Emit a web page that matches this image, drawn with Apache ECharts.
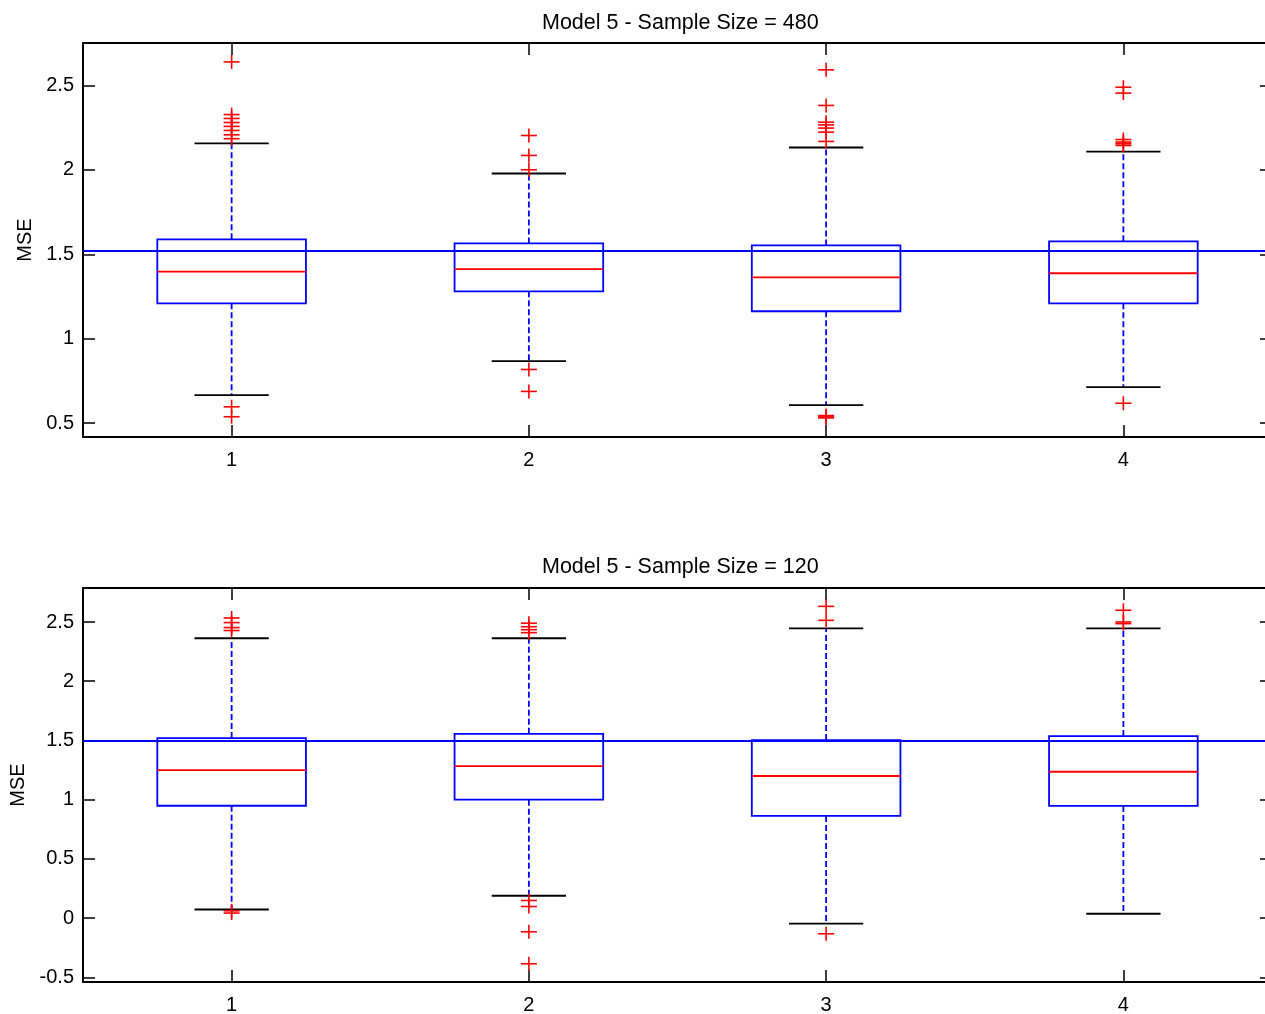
<!DOCTYPE html>
<html>
<head>
<meta charset="utf-8">
<script src="https://cdn.jsdelivr.net/npm/echarts@6/dist/echarts.min.js"></script>
<style>
  html, body { margin: 0; padding: 0; background: #fff; }
  #chart { width: 1265px; height: 1014px; }
</style>
</head>
<body>
<div id="chart"></div>
<script>
var categories = ["1", "2", "3", "4"];

// Model 5 - Sample Size = 480
var low480 = [0.666, 0.867, 0.607, 0.713];
var q1_480 = [1.21, 1.281, 1.163, 1.21];
var median480 = [1.398, 1.413, 1.364, 1.388];
var q3_480 = [1.589, 1.565, 1.553, 1.577];
var high480 = [2.157, 1.979, 2.133, 2.109];
var outliers480 = [
  [2.64, 2.328, 2.305, 2.281, 2.258, 2.234, 2.208, 2.185, 0.597, 0.538],
  [2.204, 2.086, 2.001, 0.818, 0.688],
  [2.593, 2.382, 2.283, 2.267, 2.248, 2.224, 2.169, 0.545, 0.537, 0.531],
  [2.49, 2.455, 2.18, 2.165, 2.155, 2.145, 0.618]
];
var ref480 = 1.524;

// Model 5 - Sample Size = 120
var low120 = [0.073, 0.189, -0.047, 0.037];
var q1_120 = [0.949, 1.0, 0.863, 0.947];
var median120 = [1.25, 1.284, 1.2, 1.236];
var q3_120 = [1.52, 1.556, 1.503, 1.537];
var high120 = [2.363, 2.363, 2.447, 2.447];
var outliers120 = [
  [2.534, 2.495, 2.453, 2.428, 0.062, 0.043],
  [2.49, 2.46, 2.435, 2.41, 0.149, 0.098, -0.115, -0.385],
  [2.632, 2.514, -0.132],
  [2.599, 2.5, 2.486]
];
var ref120 = 1.503;

var yRange480 = [0.418, 2.752];
var yRange120 = [-0.539, 2.787];

var FONT = "'Liberation Sans', Arial, Helvetica, sans-serif";

function boxRows(low, q1, med, q3, high) {
  var rows = [];
  for (var i = 0; i < categories.length; i++) {
    rows.push([i, low[i], q1[i], med[i], q3[i], high[i]]);
  }
  return rows;
}

function outlierRows(list) {
  var rows = [];
  list.forEach(function (vals, i) {
    vals.forEach(function (v) { rows.push([i, v]); });
  });
  return rows;
}

function renderBox(params, api) {
  var x = api.value(0);
  var band = api.size([1, 0])[0];
  var half = band * 0.25;
  var cap = band * 0.125;
  var pLow = api.coord([x, api.value(1)]);
  var pQ1 = api.coord([x, api.value(2)]);
  var pMed = api.coord([x, api.value(3)]);
  var pQ3 = api.coord([x, api.value(4)]);
  var pHigh = api.coord([x, api.value(5)]);
  var cx = pMed[0];
  var dash = { stroke: "#0000ff", lineWidth: 1.8, lineDash: [6, 3], fill: null };
  var black = { stroke: "#000", lineWidth: 1.8 };
  return {
    type: "group",
    children: [
      { type: "line", shape: { x1: cx, y1: pQ3[1], x2: cx, y2: pHigh[1] }, style: dash },
      { type: "line", shape: { x1: cx, y1: pQ1[1], x2: cx, y2: pLow[1] }, style: dash },
      { type: "line", shape: { x1: cx - cap, y1: pHigh[1], x2: cx + cap, y2: pHigh[1] }, style: black },
      { type: "line", shape: { x1: cx - cap, y1: pLow[1], x2: cx + cap, y2: pLow[1] }, style: black },
      {
        type: "rect",
        shape: { x: cx - half, y: pQ3[1], width: half * 2, height: pQ1[1] - pQ3[1] },
        style: { fill: null, stroke: "#0000ff", lineWidth: 1.8 }
      },
      { type: "line", shape: { x1: cx - half, y1: pMed[1], x2: cx + half, y2: pMed[1] }, style: { stroke: "#ff0000", lineWidth: 1.8 } }
    ]
  };
}

function renderPlus(params, api) {
  var p = api.coord([api.value(0), api.value(1)]);
  var st = { stroke: "#ff0000", lineWidth: 1.6 };
  return {
    type: "group",
    children: [
      { type: "line", shape: { x1: p[0] - 8, y1: p[1], x2: p[0] + 8, y2: p[1] }, style: st },
      { type: "line", shape: { x1: p[0], y1: p[1] - 7, x2: p[0], y2: p[1] + 7 }, style: st }
    ]
  };
}

function xAxisPair(gridIndex) {
  var base = {
    type: "category",
    gridIndex: gridIndex,
    data: categories,
    axisLine: { show: true, onZero: false, lineStyle: { color: "#000", width: 2 } },
    axisTick: { show: true, inside: true, alignWithLabel: true, length: 12, lineStyle: { color: "#000", width: 1.5 } },
    splitLine: { show: false }
  };
  var bottom = Object.assign({}, base, {
    position: "bottom",
    axisLabel: { color: "#000", fontSize: 20, fontFamily: FONT, margin: 13 }
  });
  var top = Object.assign({}, base, { position: "top", axisLabel: { show: false } });
  return [bottom, top];
}

function yAxisPair(gridIndex, range, nameGap) {
  var base = {
    type: "value",
    gridIndex: gridIndex,
    min: range[0],
    max: range[1],
    splitNumber: 5,
    axisLine: { show: true, onZero: false, lineStyle: { color: "#000", width: 2 } },
    axisTick: { show: true, inside: true, length: 12, lineStyle: { color: "#000", width: 1.5 } },
    splitLine: { show: false }
  };
  var left = Object.assign({}, base, {
    position: "left",
    name: "MSE",
    nameLocation: "middle",
    nameGap: nameGap,
    nameTextStyle: { color: "#000", fontSize: 20, fontFamily: FONT },
    axisLabel: {
      color: "#000", fontSize: 20, fontFamily: FONT, margin: 9,
      showMinLabel: false, showMaxLabel: false
    }
  });
  var right = Object.assign({}, base, { position: "right", axisLabel: { show: false } });
  return [left, right];
}

function refLine(value) {
  return {
    silent: true,
    symbol: "none",
    label: { show: false },
    lineStyle: { color: "#0000ff", type: "solid", width: 1.8 },
    data: [{ yAxis: value }]
  };
}

var chart = echarts.init(document.getElementById("chart"));
var xa = xAxisPair(0).concat(xAxisPair(1));
var ya = yAxisPair(0, yRange480, 46).concat(yAxisPair(1, yRange120, 53));
var titleStyle = { color: "#000", fontSize: 21.5, fontWeight: "normal", fontFamily: FONT };

var option = {
  animation: false,
  backgroundColor: "#fff",
  textStyle: { fontFamily: FONT },
  title: [
    { text: "Model 5 - Sample Size = 480", left: 537, top: 7, textStyle: titleStyle },
    { text: "Model 5 - Sample Size = 120", left: 537, top: 551, textStyle: titleStyle }
  ],
  grid: [
    { left: 83, top: 43, width: 1189, height: 394, outerBoundsMode: "none", containLabel: false },
    { left: 83, top: 588, width: 1189, height: 394, outerBoundsMode: "none", containLabel: false }
  ],
  xAxis: xa,
  yAxis: ya,
  series: [
    {
      type: "custom",
      xAxisIndex: 0,
      yAxisIndex: 0,
      renderItem: renderBox,
      encode: { x: 0, y: [1, 2, 3, 4, 5] },
      data: boxRows(low480, q1_480, median480, q3_480, high480),
      markLine: refLine(ref480)
    },
    {
      type: "custom",
      xAxisIndex: 0,
      yAxisIndex: 0,
      renderItem: renderPlus,
      encode: { x: 0, y: 1 },
      data: outlierRows(outliers480)
    },
    {
      type: "custom",
      xAxisIndex: 2,
      yAxisIndex: 2,
      renderItem: renderBox,
      encode: { x: 0, y: [1, 2, 3, 4, 5] },
      data: boxRows(low120, q1_120, median120, q3_120, high120),
      markLine: refLine(ref120)
    },
    {
      type: "custom",
      xAxisIndex: 2,
      yAxisIndex: 2,
      renderItem: renderPlus,
      encode: { x: 0, y: 1 },
      data: outlierRows(outliers120)
    }
  ]
};
chart.setOption(option);
</script>
</body>
</html>
